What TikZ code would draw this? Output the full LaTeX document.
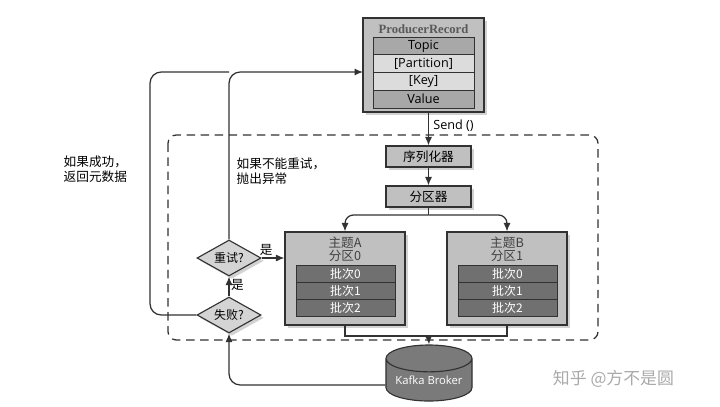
\documentclass[tikz,border=0pt]{standalone}
\usepackage{fontspec}
\setmainfont{Liberation Serif}
\setsansfont{Open Sans}
\newfontfamily\cjk{Noto Sans CJK SC}
\usepackage{tikz}
\usetikzlibrary{arrows.meta,calc,shapes.geometric,shadows}
\definecolor{figline}{RGB}{50,50,50}
\definecolor{boxfill}{RGB}{192,192,192}
\definecolor{rowdark}{RGB}{112,112,112}
\definecolor{rowmid}{RGB}{168,168,168}
\definecolor{rowlight}{RGB}{220,220,220}
\definecolor{dmdfill}{RGB}{212,212,212}
\definecolor{kbfill}{RGB}{122,122,122}
\definecolor{wmark}{RGB}{170,170,170}
\tikzset{
  shd/.style   ={drop shadow={shadow xshift=2pt,shadow yshift=-2pt,opacity=0.35}},
  outbox/.style={draw=figline, line width=0.8pt, fill=boxfill, shd, inner sep=0pt},
  rowb/.style  ={draw=figline, line width=0.6pt, minimum width=2.525cm, minimum height=0.445cm,
                 inner sep=0pt, font=\sffamily\small},
  batch/.style ={draw=figline, line width=0.6pt, fill=rowdark, text=white, minimum width=2.475cm,
                 minimum height=0.425cm, inner sep=0pt, font=\cjk\fontsize{8.5}{10}\selectfont},
  stage/.style ={draw=figline, line width=0.8pt, fill=boxfill, shd, minimum width=2.125cm,
                 minimum height=0.525cm, inner sep=0pt, font=\cjk\fontsize{9}{11}\selectfont},
  dmd/.style   ={diamond, draw=figline, line width=0.8pt, fill=dmdfill, shd, aspect=1.8, inner sep=0pt,
                 minimum width=1.6cm, minimum height=0.9cm, font=\cjk\fontsize{8.5}{10}\selectfont},
  lbl/.style   ={font=\cjk\fontsize{9}{11}\selectfont, inner sep=1pt, align=left},
  ln/.style    ={draw=figline, line width=0.9pt},
  arr/.style   ={ln, -{Latex[length=6pt,width=5pt]}},
}

\begin{document}
\begin{tikzpicture}[x=0.025cm,y=-0.025cm]
  \fill[white] (0,0) rectangle (720,406);
  \useasboundingbox (0,0) rectangle (720,406);
  % record
  \node[outbox, minimum width=3.025cm, minimum height=2.35cm] (rec) at (423.5,65) {};
  \node[font=\bfseries\small, text=black!65, inner sep=0pt] (rtitle) at (423.5,29) {ProducerRecord};
  \node[rowb, fill=rowmid]   (topic) at (423.5,46)    {Topic};
  \node[rowb, fill=rowlight] (part)  at (423.5,63.75) {[Partition]};
  \node[rowb, fill=rowlight] (key)   at (423.5,81.5)  {[Key]};
  \node[rowb, fill=rowmid]   (val)   at (423.5,99.25) {Value};
  % dashed producer area
  \draw[figline, line width=0.9pt, dashed, dash pattern=on 6pt off 4pt, rounded corners=6pt]
    (168,135) rectangle (598,340);
  \node[stage] (ser) at (428.5,156.5) {序列化器};
  \node[stage] (parter) at (428.5,196.5) {分区器};
  % partitions
  \node[outbox, minimum width=3cm, minimum height=2.325cm] (pa) at (345,278.5) {};
  \node[outbox, minimum width=3cm, minimum height=2.325cm] (pb) at (507,278.5) {};
  \node[lbl, align=center, text=black!75] (pat) at (345,249.5) {主题A\\[-2pt]分区0};
  \node[lbl, align=center, text=black!75] (pbt) at (507,249.5) {主题B\\[-2pt]分区1};
  \node[batch] (a0) at (345.5,273.5) {批次0};
  \node[batch] (a1) at (345.5,290.5) {批次1};
  \node[batch] (a2) at (345.5,307.5) {批次2};
  \node[batch] (b0) at (507.5,273.5) {批次0};
  \node[batch] (b1) at (507.5,290.5) {批次1};
  \node[batch] (b2) at (507.5,307.5) {批次2};
  % broker
  \node[cylinder, shape border rotate=90, aspect=0.4, draw=figline, line width=0.8pt, fill=kbfill,
        minimum width=2.15cm, minimum height=1.4cm, text=white, font=\sffamily\footnotesize, inner sep=0pt]
        (kb) at (429,380) {\raisebox{-7pt}{Kafka Broker}};
  % decisions
  \node[dmd] (retry) at (229,258) {重试?};
  \node[dmd] (fail)  at (229,315) {失败?};
  \coordinate (intop) at (363,72);
  \coordinate (lft) at (150,72);
  \coordinate (split) at (428.5,215);
  \coordinate (mrg) at (428.5,336);
  % flow
  \draw[arr] (rec.south -| ser.north) -- node[right, font=\sffamily\small, inner sep=3pt, pos=0.4] {Send ()} (ser.north);
  \draw[arr] (ser) -- (parter);
  \draw[ln] (parter.south) -- (split);
  \draw[arr, rounded corners=6pt] (split) -| (pa.north);
  \draw[arr, rounded corners=6pt] (split) -| (pb.north);
  \draw[ln] (pa.south) |- (mrg);
  \draw[ln] (pb.south) |- (mrg);
  \draw[arr] (mrg) -- (kb.north);
  \draw[arr, rounded corners=8pt] (kb.west |- 0,385) -| (fail.south);
  \draw[arr] (fail.north) -- node[right, lbl, pos=0.6] {是} (retry.south);
  \draw[arr] (retry.east) -- node[above, lbl, pos=0.2] {是} (retry.east -| pa.west);
  \draw[arr, rounded corners=8pt] (retry.north) |- (intop);
  \draw[ln, rounded corners=8pt] (fail.west) -| (lft) -- (retry.north |- lft);
  % notes
  \node[lbl, anchor=north west] (okn) at (62,154) {如果成功，\\返回元数据};
  \node[lbl, anchor=north west] (errn) at (235,156) {如果不能重试，\\抛出异常};
  \node[font=\cjk\fontsize{12}{14}\selectfont, text=wmark, anchor=west] (wm) at (548,379) {知乎\ @方不是圆};
\end{tikzpicture}
\end{document}
